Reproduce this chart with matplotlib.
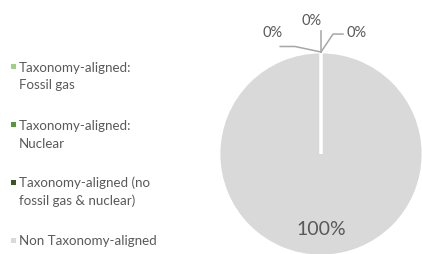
import matplotlib
matplotlib.use("Agg")
import matplotlib.pyplot as plt
from matplotlib.patches import Rectangle

plt.rcParams['font.family'] = ['Lato', 'DejaVu Sans']

categories = ["Taxonomy-aligned:\nFossil gas",
              "Taxonomy-aligned:\nNuclear",
              "Taxonomy-aligned (no\nfossil gas & nuclear)",
              "Non Taxonomy-aligned"]
values = [0, 0, 0, 100]
colors = ["#9fd184", "#559a35", "#375623", "#d9d9d9"]
text_color = "#595959"
lead_col = "#a6a6a6"

W, H = 422, 255
fig = plt.figure(figsize=(W / 100, H / 100), dpi=100)

cx, cy, r = 321, 155, 102  # pixel centre (from top) and radius
ax = fig.add_axes([(cx - r) / W, (H - cy - r) / H, 2 * r / W, 2 * r / H])

wedges, _ = ax.pie(values, colors=colors, startangle=90, counterclock=False,
                   radius=1, wedgeprops=dict(edgecolor='white', linewidth=2))
ax.set_xlim(-1, 1)
ax.set_ylim(-1, 1)
ax.axis('off')
for w, v in zip(wedges, values):
    w.set_clip_on(False)
    if v == 0:
        w.set_zorder(3)

total = sum(values)
pct = [f"{v / total * 100:.0f}%" for v in values]

# data labels of the zero slices, with leader lines from the top of the pie
ax.plot([0, -0.255, -0.40], [1.0, 1.054, 1.054], color=lead_col, lw=1.1,
        clip_on=False, zorder=4)
ax.text(-0.47, 1.20, pct[0], ha='center', va='center', fontsize=10.5, color=text_color)
ax.plot([0, 0], [1.0, 1.206], color=lead_col, lw=1.1, clip_on=False, zorder=4)
ax.text(-0.09, 1.31, pct[1], ha='center', va='center', fontsize=10.5, color=text_color)
ax.plot([0, 0.118, 0.216], [1.0, 1.176, 1.176], color=lead_col, lw=1.1,
        clip_on=False, zorder=4)
ax.text(0.353, 1.20, pct[2], ha='center', va='center', fontsize=10.5, color=text_color)
ax.text(0.0, -0.735, pct[3], ha='center', va='center', fontsize=14, color=text_color)

# legend (manual, markers aligned with first text line)
for i, (lab, c) in enumerate(zip(categories, colors)):
    yc = 67 + 58 * i
    fig.patches.append(Rectangle((11 / W, (H - yc - 2.5) / H), 5 / W, 5 / H,
                                 transform=fig.transFigure, facecolor=c,
                                 edgecolor='none'))
    for j, line in enumerate(lab.split("\n")):
        fig.text(19 / W, (H - yc - 4.5 - 18 * j) / H, line, ha='left',
                 va='baseline', fontsize=9.6, color=text_color)

fig.savefig("out.png", dpi=100)
